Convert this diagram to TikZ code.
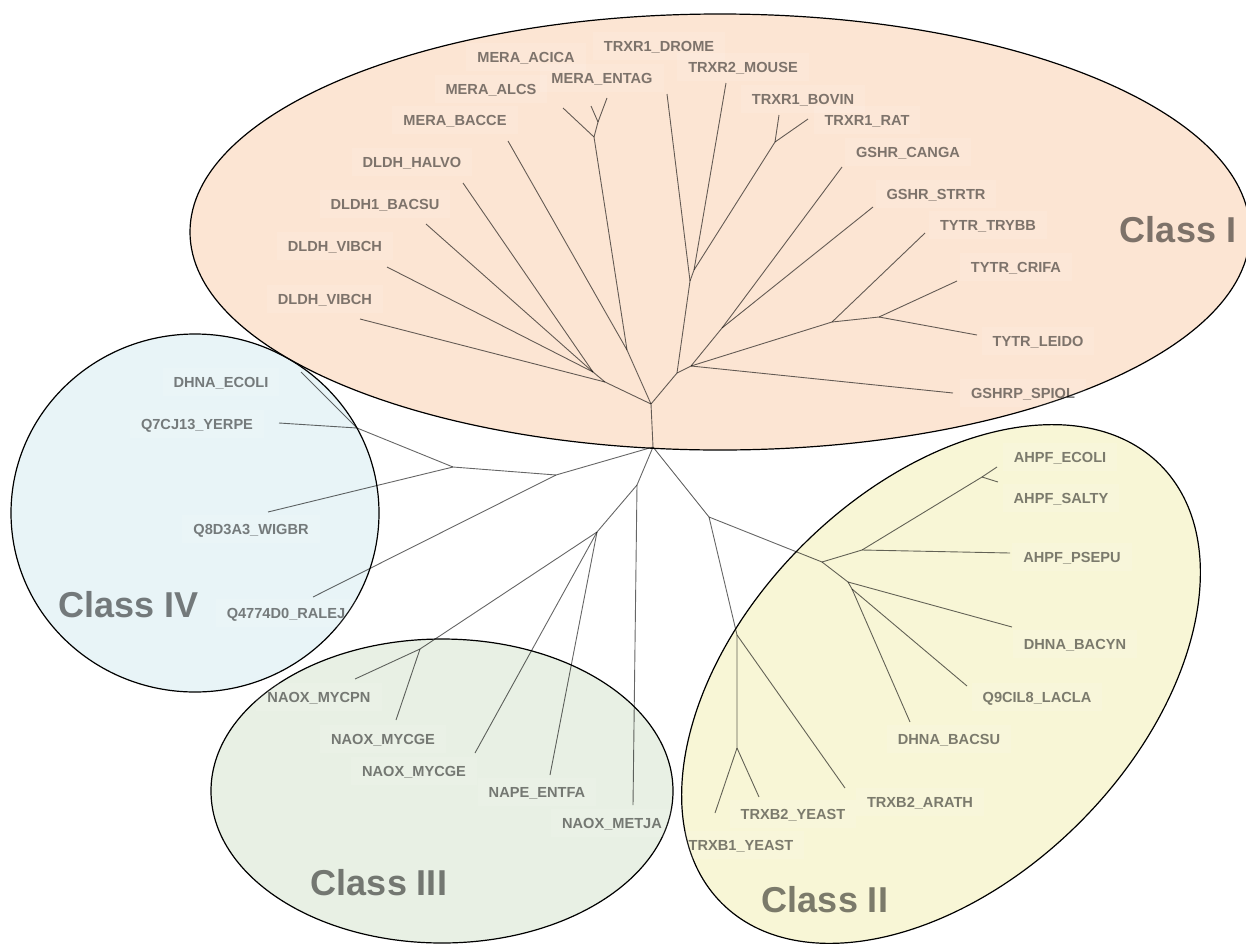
\documentclass[tikz,border=0pt]{standalone}
\usepackage{fontspec}
\setmainfont{Liberation Sans}
\definecolor{peach}{RGB}{252,229,211}
\definecolor{paleblue}{RGB}{232,244,247}
\definecolor{palegreen}{RGB}{232,240,228}
\definecolor{paleyellow}{RGB}{248,246,214}
\tikzset{
    branch/.style={draw=black, draw opacity=0.6, line width=0.9pt},
    taxon/.style={font=\bfseries\fontsize{14.6}{16}\selectfont, text=black, text opacity=0.5,
        fill=white, fill opacity=0.1, inner xsep=11pt, inner ysep=9pt, text height=10.5pt, text depth=0pt},
    group/.style={font=\bfseries\fontsize{36}{40}\selectfont, text=black, text opacity=0.5,
        text height=25.8pt, text depth=0pt, inner sep=0pt},
    region/.style={draw=black, line width=1.2pt}
}
\begin{document}
\begin{tikzpicture}[x=1pt,y=-1pt]
    \useasboundingbox (0,0) rectangle (1246,945);
    \draw[region, fill=paleblue] (195,513) ellipse [x radius=184, y radius=179];
    \draw[region, fill=palegreen] (442,791) ellipse [x radius=231, y radius=152];
    \draw[region, fill=paleyellow, rotate around={45:(941,684)}] (941,684) ellipse [x radius=310, y radius=196];
    \draw[region, fill=peach] (720,232) ellipse [x radius=530, y radius=218];

    \coordinate (root) at (653,447);
    \coordinate (cA) at (651,404);
    \coordinate (cL) at (605,382);
    \coordinate (cL2) at (593,372);
    \coordinate (cM0) at (627,350);
    \coordinate (cM1) at (594,137);
    \coordinate (cM2) at (598,122);
    \coordinate (cR1) at (677,373);
    \coordinate (cR2) at (690,281);
    \coordinate (cR2b) at (694,270);
    \coordinate (cR3) at (775,142);
    \coordinate (cR4) at (691,366);
    \coordinate (cG) at (722,328);
    \coordinate (cT1) at (832,322);
    \coordinate (cT2) at (879,317);
    \coordinate (lVIBCHa) at (360,319);
    \coordinate (lVIBCHb) at (387,267);
    \coordinate (lBACSUa) at (426,224);
    \coordinate (lHALVO) at (463,183);
    \coordinate (lBACCE) at (508,141);
    \coordinate (lALCS) at (563,108);
    \coordinate (lACICA) at (591,106);
    \coordinate (lENTAG) at (607,98);
    \coordinate (lDROME) at (667,94);
    \coordinate (lMOUSE) at (726,83);
    \coordinate (lBOVIN) at (779,115);
    \coordinate (lRAT) at (808,119);
    \coordinate (lCANGA) at (842,167);
    \coordinate (lSTRTR) at (873,207);
    \coordinate (lTRYBB) at (925,233);
    \coordinate (lCRIFA) at (957,281);
    \coordinate (lLEIDO) at (977,335);
    \coordinate (lSPIOL) at (953,393);

    \coordinate (cC) at (556,475);
    \coordinate (cC4) at (453,467);
    \coordinate (cC4b) at (357,428);
    \coordinate (lECOLIa) at (301,372);
    \coordinate (lYERPE) at (279,423);
    \coordinate (lWIGBR) at (268,512);
    \coordinate (lRALEJ) at (313,597);

    \coordinate (cN1) at (637,485);
    \coordinate (cN2) at (597,532);
    \coordinate (cN3) at (420,649);
    \coordinate (lMYCPN) at (355,679);
    \coordinate (lMYCGEa) at (396,720);
    \coordinate (lMYCGEb) at (475,753);
    \coordinate (lENTFA) at (550,775);
    \coordinate (lMETJA) at (633,805);

    \coordinate (cB) at (709,517);
    \coordinate (cX) at (737,635);
    \coordinate (cY) at (737,748);
    \coordinate (cN) at (822,562);
    \coordinate (cP) at (862,550);
    \coordinate (cE) at (982,477);
    \coordinate (cD) at (848,582);
    \coordinate (cQ) at (852,589);
    \coordinate (lYEASTa) at (715,813);
    \coordinate (lYEASTb) at (759,797);
    \coordinate (lARATH) at (845,788);
    \coordinate (lPSEPU) at (1010,553);
    \coordinate (lECOLIb) at (997,467);
    \coordinate (lSALTY) at (998,482);
    \coordinate (lBACYN) at (1012,627);
    \coordinate (lLACLA) at (967,686);
    \coordinate (lBACSUb) at (910,722);

    \draw[branch] (root) -- (cA) -- (cL) -- (lVIBCHa);
    \draw[branch] (cL) -- (cL2) -- (lVIBCHb);
    \draw[branch] (cL2) -- (lBACSUa);
    \draw[branch] (cL2) -- (lHALVO);
    \draw[branch] (cA) -- (cM0) -- (lBACCE);
    \draw[branch] (cM0) -- (cM1) -- (lALCS);
    \draw[branch] (cM1) -- (cM2) -- (lACICA);
    \draw[branch] (cM2) -- (lENTAG);
    \draw[branch] (cA) -- (cR1) -- (cR2) -- (lDROME);
    \draw[branch] (cR2) -- (cR2b) -- (lMOUSE);
    \draw[branch] (cR2b) -- (cR3) -- (lBOVIN);
    \draw[branch] (cR3) -- (lRAT);
    \draw[branch] (cR1) -- (cR4) -- (cG) -- (lCANGA);
    \draw[branch] (cG) -- (lSTRTR);
    \draw[branch] (cR4) -- (cT1) -- (lTRYBB);
    \draw[branch] (cT1) -- (cT2) -- (lCRIFA);
    \draw[branch] (cT2) -- (lLEIDO);
    \draw[branch] (cR4) -- (lSPIOL);

    \draw[branch] (root) -- (cC) -- (cC4) -- (cC4b) -- (lECOLIa);
    \draw[branch] (cC4b) -- (lYERPE);
    \draw[branch] (cC4) -- (lWIGBR);
    \draw[branch] (cC) -- (lRALEJ);

    \draw[branch] (root) -- (cN1) -- (lMETJA);
    \draw[branch] (cN1) -- (cN2) -- (cN3) -- (lMYCPN);
    \draw[branch] (cN3) -- (lMYCGEa);
    \draw[branch] (cN2) -- (lMYCGEb);
    \draw[branch] (cN2) -- (lENTFA);

    \draw[branch] (root) -- (cB) -- (cX) -- (cY) -- (lYEASTa);
    \draw[branch] (cY) -- (lYEASTb);
    \draw[branch] (cX) -- (lARATH);
    \draw[branch] (cB) -- (cN) -- (cP) -- (lPSEPU);
    \draw[branch] (cP) -- (cE) -- (lECOLIb);
    \draw[branch] (cE) -- (lSALTY);
    \draw[branch] (cN) -- (cD) -- (lBACYN);
    \draw[branch] (cD) -- (cQ) -- (lLACLA);
    \draw[branch] (cQ) -- (lBACSUb);

    \node[taxon] (tMERAACICA) at (526,57) {MERA\_ACICA};
    \node[taxon] (tTRXRDROME) at (659,46) {TRXR1\_DROME};
    \node[taxon] (tMERAALCS) at (491,89) {MERA\_ALCS};
    \node[taxon] (tMERAENTAG) at (602,78) {MERA\_ENTAG};
    \node[taxon] (tTRXRMOUSE) at (743,67) {TRXR2\_MOUSE};
    \node[taxon] (tMERABACCE) at (455,120) {MERA\_BACCE};
    \node[taxon] (tDLDHHALVO) at (412,162) {DLDH\_HALVO};
    \node[taxon] (tDLDHBACSU) at (385,204) {DLDH1\_BACSU};
    \node[taxon] (tDLDHVIBCHb) at (335,246) {DLDH\_VIBCH};
    \node[taxon] (tDLDHVIBCHa) at (325,299) {DLDH\_VIBCH};
    \node[taxon] (tTRXRBOVIN) at (803,99) {TRXR1\_BOVIN};
    \node[taxon] (tTRXRRAT) at (867,120) {TRXR1\_RAT};
    \node[taxon] (tGSHRCANGA) at (908,152) {GSHR\_CANGA};
    \node[taxon] (tGSHRSTRTR) at (936,194) {GSHR\_STRTR};
    \node[taxon] (tTYTRTRYBB) at (988,225) {TYTR\_TRYBB};
    \node[taxon] (tTYTRCRIFA) at (1016,267) {TYTR\_CRIFA};
    \node[taxon] (tTYTRLEIDO) at (1038,341) {TYTR\_LEIDO};
    \node[taxon] (tGSHRPSPIOL) at (1023,393) {GSHRP\_SPIOL};
    \node[group] (gI) at (1178,230) {Class I};

    \node[taxon] (tDHNAECOLI) at (221,382) {DHNA\_ECOLI};
    \node[taxon] (tYERPE) at (197,424) {Q7CJ13\_YERPE};
    \node[taxon] (tWIGBR) at (251,529) {Q8D3A3\_WIGBR};
    \node[taxon] (tRALEJ) at (286,613) {Q4774D0\_RALEJ};
    \node[group] (gIV) at (129,605) {Class IV};

    \node[taxon] (tNAOXMYCPN) at (319,697) {NAOX\_MYCPN};
    \node[taxon] (tNAOXMYCGEa) at (383,739) {NAOX\_MYCGE};
    \node[taxon] (tNAOXMYCGEb) at (414,771) {NAOX\_MYCGE};
    \node[taxon] (tNAPEENTFA) at (537,792) {NAPE\_ENTFA};
    \node[taxon] (tNAOXMETJA) at (612,823) {NAOX\_METJA};
    \node[group] (gIII) at (379,883) {Class III};

    \node[taxon] (tAHPFECOLI) at (1060,457) {AHPF\_ECOLI};
    \node[taxon] (tAHPFSALTY) at (1061,498) {AHPF\_SALTY};
    \node[taxon] (tAHPFPSEPU) at (1072,557) {AHPF\_PSEPU};
    \node[taxon] (tDHNABACYN) at (1075,644) {DHNA\_BACYN};
    \node[taxon] (tLACLA) at (1037,697) {Q9CIL8\_LACLA};
    \node[taxon] (tDHNABACSU) at (949,739) {DHNA\_BACSU};
    \node[taxon] (tTRXBARATH) at (920,802) {TRXB2\_ARATH};
    \node[taxon] (tTRXBYEASTb) at (793,814) {TRXB2\_YEAST};
    \node[taxon] (tTRXBYEASTa) at (741,845) {TRXB1\_YEAST};
    \node[group] (gII) at (825,900) {Class II};
\end{tikzpicture}
\end{document}
